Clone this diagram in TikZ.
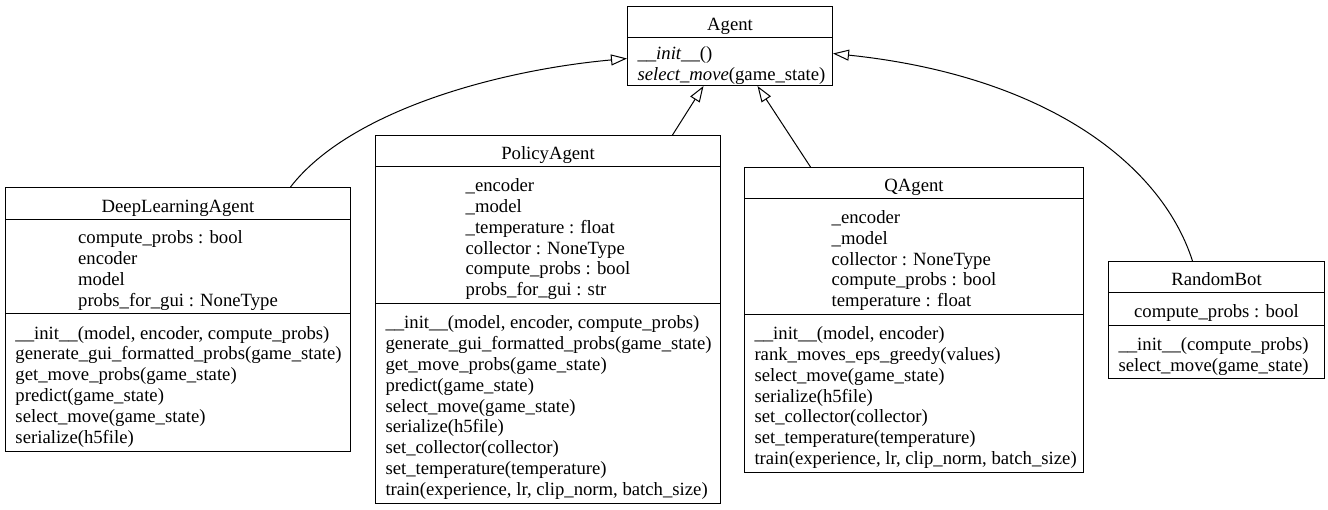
\documentclass[tikz,border=0pt]{standalone}
\usepackage{fontspec}
\setmainfont{Liberation Serif}
\usetikzlibrary{arrows.meta}

\tikzset{
  classbox/.style={draw, inner sep=0pt, anchor=north west},
  lines/.style={inner sep=0pt, yshift=-3pt, font=\fontsize{18.7}{20.8}\selectfont},
  ops/.style={lines, anchor=west, xshift=10pt},
  inherit/.style={-{Triangle[open, length=16pt, width=11pt]}}
}

\begin{document}
\begin{tikzpicture}[x=1pt, y=-1pt, line width=1pt]
  \path[use as bounding box, fill=white] (0,0) rectangle (1328,509);

  % Agent
  \node[classbox, minimum width=205pt, minimum height=79pt] (agent) at (627,6) {};
  \draw (agent.west |- 0,37) -- (agent.east |- 0,37);
  \node[lines] (agent-name) at (agent.north |- 0,23.5) {\begin{tabular}{@{}l@{}}Agent\end{tabular}};
  \node[ops] (agent-ops) at (agent.west |- 0,63) {\begin{tabular}{@{}l@{}}
    \textit{\_\_init\_\_}()\\
    \textit{select\_move}(game\_state)
  \end{tabular}};

  % DeepLearningAgent
  \node[classbox, minimum width=345pt, minimum height=264pt] (dla) at (5,187) {};
  \draw (dla.west |- 0,219) -- (dla.east |- 0,219);
  \draw (dla.west |- 0,313) -- (dla.east |- 0,313);
  \node[lines] (dla-name) at (dla.north |- 0,205) {\begin{tabular}{@{}l@{}}DeepLearningAgent\end{tabular}};
  \node[lines] (dla-attrs) at (dla.north |- 0,268) {\begin{tabular}{@{}l@{}}
    compute\_probs : bool\\
    encoder\\
    model\\
    probs\_for\_gui : NoneType
  \end{tabular}};
  \node[ops] (dla-ops) at (dla.west |- 0,384) {\begin{tabular}{@{}l@{}}
    \_\_init\_\_(model, encoder, compute\_probs)\\
    generate\_gui\_formatted\_probs(game\_state)\\
    get\_move\_probs(game\_state)\\
    predict(game\_state)\\
    select\_move(game\_state)\\
    serialize(h5file)
  \end{tabular}};

  % PolicyAgent
  \node[classbox, minimum width=345pt, minimum height=368pt] (policy) at (375,135) {};
  \draw (policy.west |- 0,166) -- (policy.east |- 0,166);
  \draw (policy.west |- 0,303) -- (policy.east |- 0,303);
  \node[lines] (policy-name) at (policy.north |- 0,152.5) {\begin{tabular}{@{}l@{}}PolicyAgent\end{tabular}};
  \node[lines] (policy-attrs) at (policy.north |- 0,236.5) {\begin{tabular}{@{}l@{}}
    \_encoder\\
    \_model\\
    \_temperature : float\\
    collector : NoneType\\
    compute\_probs : bool\\
    probs\_for\_gui : str
  \end{tabular}};
  \node[ops] (policy-ops) at (policy.west |- 0,405) {\begin{tabular}{@{}l@{}}
    \_\_init\_\_(model, encoder, compute\_probs)\\
    generate\_gui\_formatted\_probs(game\_state)\\
    get\_move\_probs(game\_state)\\
    predict(game\_state)\\
    select\_move(game\_state)\\
    serialize(h5file)\\
    set\_collector(collector)\\
    set\_temperature(temperature)\\
    train(experience, lr, clip\_norm, batch\_size)
  \end{tabular}};

  % QAgent
  \node[classbox, minimum width=339pt, minimum height=305pt] (qagent) at (744,167) {};
  \draw (qagent.west |- 0,198) -- (qagent.east |- 0,198);
  \draw (qagent.west |- 0,314) -- (qagent.east |- 0,314);
  \node[lines] (qagent-name) at (qagent.north |- 0,184.5) {\begin{tabular}{@{}l@{}}QAgent\end{tabular}};
  \node[lines] (qagent-attrs) at (qagent.north |- 0,258) {\begin{tabular}{@{}l@{}}
    \_encoder\\
    \_model\\
    collector : NoneType\\
    compute\_probs : bool\\
    temperature : float
  \end{tabular}};
  \node[ops] (qagent-ops) at (qagent.west |- 0,395) {\begin{tabular}{@{}l@{}}
    \_\_init\_\_(model, encoder)\\
    rank\_moves\_eps\_greedy(values)\\
    select\_move(game\_state)\\
    serialize(h5file)\\
    set\_collector(collector)\\
    set\_temperature(temperature)\\
    train(experience, lr, clip\_norm, batch\_size)
  \end{tabular}};

  % RandomBot
  \node[classbox, minimum width=216pt, minimum height=117pt] (rb) at (1108,261) {};
  \draw (rb.west |- 0,292) -- (rb.east |- 0,292);
  \draw (rb.west |- 0,325) -- (rb.east |- 0,325);
  \node[lines] (rb-name) at (rb.north |- 0,278.5) {\begin{tabular}{@{}l@{}}RandomBot\end{tabular}};
  \node[lines] (rb-attrs) at (rb.north |- 0,310.5) {\begin{tabular}{@{}l@{}}compute\_probs : bool\end{tabular}};
  \node[ops] (rb-ops) at (rb.west |- 0,353.5) {\begin{tabular}{@{}l@{}}
    \_\_init\_\_(compute\_probs)\\
    select\_move(game\_state)
  \end{tabular}};

  % inheritance
  \draw[inherit] ([xshift=112.5pt]dla.north) .. controls (350,110) and (500,70) .. ([yshift=-12.5pt]agent.west);
  \draw[inherit] ([xshift=124.5pt]policy.north) -- ([xshift=-26.5pt]agent.south);
  \draw[inherit] ([xshift=-103.5pt]qagent.north) -- ([xshift=27.5pt]agent.south);
  \draw[inherit] ([xshift=-24pt]rb.north) .. controls (1160,160) and (1040,75) .. ([yshift=-7.5pt]agent.east);
\end{tikzpicture}
\end{document}
